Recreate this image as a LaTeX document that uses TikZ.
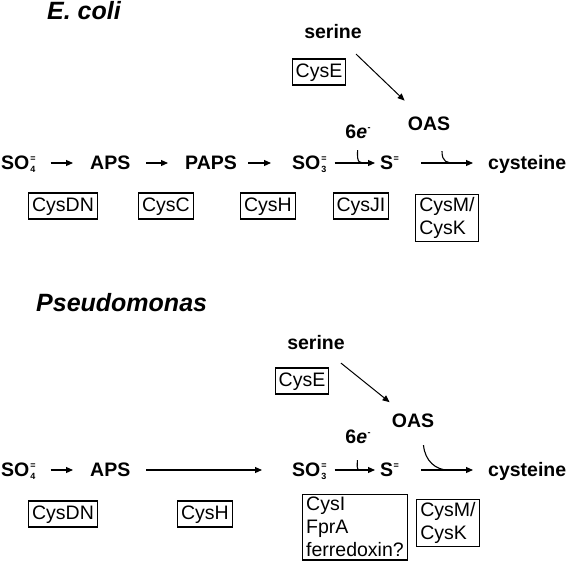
\documentclass[tikz,border=0pt]{standalone}
\usepackage{fontspec}
\setmainfont{Liberation Sans}
\usetikzlibrary{arrows.meta}
\newcommand\sbsp[2]{\kern1pt\rlap{\raisebox{7.5pt}{\fontsize{9}{9}\selectfont #2}}\raisebox{-3.5pt}{\fontsize{9}{9}\selectfont #1}}
\newcommand\spr[1]{\kern0.5pt\raisebox{7.5pt}{\fontsize{9}{9}\selectfont #1}}
\tikzstyle{arrow} = [line width=1.1pt,-{Triangle[length=7pt,width=6pt]}]
\tikzstyle{curl} = [line width=1.1pt]
\tikzstyle{met} = [font=\fontsize{19.5}{23}\selectfont\bfseries, inner sep=0pt, text height=14pt, text depth=2pt]
\tikzstyle{enz} = [draw, line width=1.2pt, font=\fontsize{19.5}{23}\selectfont, inner xsep=3.5pt, inner ysep=4pt, text height=14pt, text depth=4pt]
\tikzstyle{enzz} = [draw, line width=1.2pt, font=\fontsize{19.5}{23}\selectfont, align=left, inner xsep=3.5pt, inner ysep=3pt]
\tikzstyle{title} = [font=\fontsize{25}{28}\selectfont\bfseries\itshape, inner sep=0pt, anchor=base west]

\begin{document}
\begin{tikzpicture}[x=1pt,y=-1pt]
\useasboundingbox (0,0) rectangle (566,563);

%% E. coli
\node[title] (t1) at (47,19) {E. coli};

\node[met] (ser1) at (333,32) {serine};
\node[enz] (cyse1) at (319,72) {CysE};
\node[met] (oas1) at (429,124) {OAS};
\node[met] (e1) at (358,132) {6\textit{e}\spr{-}};

\node[met,anchor=west] (so41) at (1,163) {SO\sbsp{4}{=}};
\node[met,anchor=west] (aps1) at (90,163) {APS};
\node[met,anchor=west] (paps1) at (185,163) {PAPS};
\node[met,anchor=west] (so31) at (292,163) {SO\sbsp{3}{=}};
\node[met,anchor=west] (s1) at (380,163) {S\spr{=}};
\node[met,anchor=west] (cys1) at (488,163) {cysteine};

\node[enz] (cysdn1) at (63,206) {CysDN};
\node[enz] (cysc1) at (166,206) {CysC};
\node[enz] (cysh1) at (268,206) {CysH};
\node[enz] (cysji1) at (361,206) {CysJI};
\node[enzz] (cysm1) at (447,218) {CysM/\\CysK};

\draw [arrow,shorten <=15pt,shorten >=17pt] (so41) -- (aps1); % so4-aps
\draw [arrow,shorten <=16pt,shorten >=17pt] (aps1) -- (paps1); % aps-paps
\draw [arrow,shorten <=11pt,shorten >=21pt] (paps1) -- (so31); % paps-so3
\draw [arrow,shorten <=8pt,shorten >=5pt] (so31) -- (s1); % so3-s
\draw [arrow,shorten <=22pt,shorten >=15pt] (s1) -- (cys1); % s-cysteine
\draw [arrow,line width=1pt,shorten <=20pt,shorten >=22pt] (ser1) -- (oas1); % serine-oas

\coordinate (j1) at (369,163);
\coordinate (j2) at (455,163);
\draw [curl,shorten <=10pt] (e1.south) .. controls +(-1,24) and +(-10,0) .. (j1);
\draw [curl,shorten <=19pt] ([xshift=13pt]oas1.south) .. controls +(0,30) and +(-8,0) .. (j2);

%% Pseudomonas
\node[title] (t2) at (36,311) {Pseudomonas};

\node[met] (ser2) at (316,343) {serine};
\node[enz] (cyse2) at (302,381) {CysE};
\node[met] (oas2) at (413,421) {OAS};
\node[met] (e2) at (358,437) {6\textit{e}\spr{-}};

\node[met,anchor=west] (so42) at (1,470) {SO\sbsp{4}{=}};
\node[met,anchor=west] (aps2) at (90,470) {APS};
\node[met,anchor=west] (so32) at (292,470) {SO\sbsp{3}{=}};
\node[met,anchor=west] (s2) at (380,470) {S\spr{=}};
\node[met,anchor=west] (cys2) at (488,470) {cysteine};

\node[enz] (cysdn2) at (63,514) {CysDN};
\node[enz] (cysh2) at (205,514) {CysH};
\node[enzz] (cysi2) at (355,527) {CysI\\FprA\\ferredoxin?};
\node[enzz] (cysm2) at (448,523) {CysM/\\CysK};

\draw [arrow,shorten <=15pt,shorten >=17pt] (so42) -- (aps2); % so4-aps
\draw [arrow,shorten <=16pt,shorten >=30pt] (aps2) -- (so32); % aps-so3
\draw [arrow,shorten <=8pt,shorten >=5pt] (so32) -- (s2); % so3-s
\draw [arrow,shorten <=22pt,shorten >=15pt] (s2) -- (cys2); % s-cysteine
\draw [arrow,line width=1pt,shorten <=19pt,shorten >=17pt] (ser2) -- (oas2); % serine-oas

\coordinate (j3) at (366,470);
\coordinate (j4) at (448,470);
\draw [curl,shorten <=15pt] (e2.south) .. controls +(-1,26) and +(-10,0) .. (j3);
\draw [curl,shorten <=16pt] ([xshift=9pt]oas2.south) .. controls +(3,32) and +(-12,0) .. (j4);

\end{tikzpicture}
\end{document}
